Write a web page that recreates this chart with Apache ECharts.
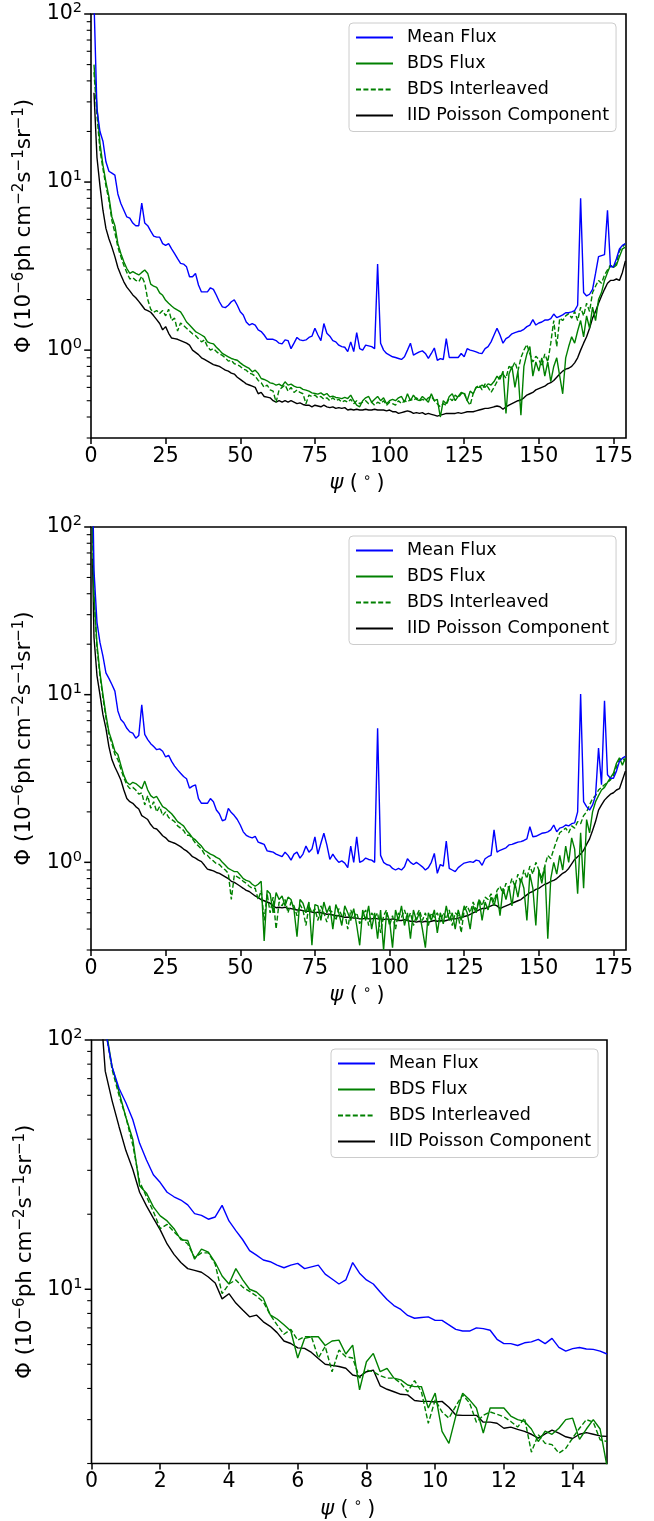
<!DOCTYPE html>
<html>
<head>
<meta charset="utf-8">
<script src="https://cdn.jsdelivr.net/npm/echarts@6/dist/echarts.min.js"></script>
<style>
html,body{margin:0;padding:0;background:#fff;}
#chart{width:654px;height:1521px;}
</style>
</head>
<body>
<div id="chart"></div>
<script>
// ---------- DATA ----------
const seriesNames = ['Mean Flux', 'BDS Flux', 'BDS Interleaved', 'IID Poisson Component'];

// Panel 1: psi = 1..179 deg
const x1 = [];
for (let d = 1; d <= 179; d++) x1.push(d);
const p1Mean = [120,27,20,17.5,13.2,11.6,11.3,11.0,8.5,7.45,
6.8,6.2,6.1,5.7,5.5,5.5,7.5,5.7,5.5,5.1,
4.77,4.7,4.7,4.3,4.2,4.3,4.0,3.75,3.5,3.28,
3.25,3.13,2.73,2.73,2.86,2.44,2.22,2.22,2.22,2.35,
2.3,2.12,1.94,1.81,1.79,1.85,1.94,1.99,1.85,1.69,
1.62,1.47,1.41,1.44,1.41,1.32,1.29,1.23,1.16,1.16,
1.16,1.14,1.1,1.09,1.15,1.14,1.02,1.1,1.19,1.15,
1.14,1.15,1.19,1.21,1.35,1.23,1.14,1.44,1.26,1.21,
1.14,1.12,1.07,1.05,1.04,0.98,1.12,0.98,1.27,1.02,
1.0,1.07,1.06,1.05,1.02,3.25,1.1,1.0,0.955,0.934,
0.913,0.904,0.892,0.88,0.913,1.0,1.1,0.934,0.955,0.977,
0.99,0.955,0.892,0.955,1.03,0.87,0.89,0.88,1.17,0.904,
0.904,0.904,0.904,0.955,0.913,1.02,1.0,0.99,0.977,0.96,
0.955,1.02,1.05,1.12,1.23,1.35,1.23,1.1,1.17,1.2,
1.25,1.27,1.29,1.3,1.33,1.38,1.41,1.52,1.41,1.45,
1.47,1.51,1.51,1.54,1.64,1.56,1.59,1.62,1.67,1.67,
1.69,1.72,1.85,8.0,2.2,2.1,2.15,2.3,2.86,3.6,
3.65,3.7,6.8,3.13,3.13,3.5,4.0,4.2,4.3];
const p1BDS = [50,28,17,12.6,10,8.2,6.2,5.5,4.3,3.76,
3.36,3.06,2.86,2.93,2.86,2.8,2.9,3.0,2.86,2.47,
2.4,2.36,2.19,2.12,1.98,1.9,1.83,1.77,1.73,1.69,
1.58,1.47,1.41,1.35,1.29,1.26,1.23,1.2,1.12,1.1,
1.09,1.04,1.0,0.955,0.934,0.913,0.892,0.88,0.87,0.84,
0.814,0.796,0.778,0.743,0.76,0.727,0.678,0.669,0.657,0.639,
0.633,0.619,0.627,0.61,0.648,0.619,0.627,0.61,0.6,0.6,
0.584,0.578,0.57,0.557,0.552,0.547,0.557,0.54,0.552,0.527,
0.532,0.523,0.52,0.515,0.523,0.515,0.54,0.5,0.47,0.46,
0.5,0.52,0.53,0.49,0.51,0.53,0.5,0.52,0.48,0.5,
0.51,0.5,0.52,0.53,0.49,0.55,0.5,0.54,0.51,0.5,
0.53,0.51,0.49,0.55,0.5,0.51,0.4,0.5,0.48,0.53,
0.55,0.5,0.53,0.56,0.55,0.5,0.57,0.55,0.6,0.6,
0.62,0.6,0.63,0.62,0.65,0.7,0.67,0.75,0.42,0.72,
0.8,0.6,0.75,0.41,0.8,0.95,1.05,0.7,0.85,0.75,
0.9,0.7,0.85,0.65,0.8,0.9,0.7,0.55,0.9,1.05,
1.2,1.1,1.3,1.5,1.2,1.6,1.35,1.8,1.5,2.0,
2.2,2.6,2.9,3.2,3.1,3.2,3.6,4.0,4.1];
const p1Inter = [45,25,15.5,12,9.5,7.8,5.9,5.0,4.1,3.6,
3.2,2.9,2.65,2.7,2.6,2.55,2.75,2.5,2.0,1.75,
1.68,1.72,1.65,1.72,1.6,1.75,1.5,1.55,1.3,1.45,
1.4,1.35,1.3,1.25,1.22,1.17,1.12,1.15,1.05,1.0,
1.02,0.98,0.95,0.93,0.9,0.86,0.87,0.83,0.82,0.8,
0.77,0.76,0.73,0.72,0.7,0.66,0.64,0.6,0.62,0.58,
0.57,0.49,0.58,0.6,0.62,0.57,0.6,0.56,0.58,0.56,
0.55,0.48,0.54,0.53,0.54,0.52,0.53,0.51,0.52,0.5,
0.52,0.5,0.51,0.49,0.5,0.49,0.51,0.48,0.5,0.48,
0.49,0.5,0.48,0.49,0.47,0.49,0.48,0.5,0.47,0.49,
0.48,0.47,0.5,0.48,0.5,0.49,0.51,0.5,0.52,0.5,
0.51,0.5,0.52,0.53,0.5,0.48,0.46,0.48,0.47,0.52,
0.5,0.54,0.52,0.55,0.56,0.5,0.47,0.55,0.6,0.62,
0.58,0.63,0.6,0.56,0.6,0.65,0.7,0.72,0.68,0.8,
0.78,0.85,0.75,0.9,1.0,1.08,0.95,0.85,0.92,0.88,
0.8,0.95,0.85,1.1,1.5,1.05,1.55,1.5,1.6,1.65,
1.55,1.7,1.5,1.8,1.6,1.9,1.7,2.2,2.4,2.6,
2.5,2.8,3.0,3.2,3.1,3.3,3.9,4.1,4.3];
const p1IID = [34,14,9.5,6.8,5.3,4.6,4.1,3.6,3.1,2.8,
2.55,2.37,2.25,2.13,2.05,1.95,1.85,1.75,1.72,1.68,
1.6,1.52,1.44,1.32,1.38,1.26,1.18,1.17,1.16,1.14,
1.12,1.1,1.07,1.0,0.97,0.94,0.9,0.88,0.86,0.84,
0.82,0.81,0.8,0.78,0.76,0.75,0.73,0.72,0.69,0.67,
0.65,0.63,0.62,0.61,0.6,0.55,0.56,0.53,0.525,0.52,
0.5,0.49,0.5,0.49,0.5,0.49,0.5,0.49,0.48,0.485,
0.475,0.47,0.47,0.46,0.47,0.465,0.46,0.47,0.46,0.455,
0.46,0.45,0.455,0.45,0.455,0.44,0.445,0.44,0.445,0.44,
0.44,0.445,0.44,0.44,0.445,0.44,0.44,0.44,0.435,0.44,
0.43,0.43,0.42,0.425,0.43,0.435,0.43,0.42,0.425,0.42,
0.425,0.415,0.42,0.415,0.41,0.405,0.41,0.415,0.42,0.42,
0.42,0.42,0.425,0.42,0.425,0.43,0.43,0.43,0.435,0.44,
0.445,0.45,0.45,0.455,0.46,0.465,0.46,0.445,0.46,0.47,
0.48,0.49,0.5,0.505,0.52,0.54,0.55,0.56,0.58,0.59,
0.6,0.61,0.63,0.64,0.66,0.69,0.72,0.75,0.77,0.78,
0.8,0.84,0.9,1.0,1.1,1.2,1.35,1.55,1.7,1.9,
2.1,2.3,2.5,2.6,2.6,2.65,2.6,2.9,3.4];

// Panel 2: psi = 0.5, then 1..179 deg
const x2 = [0.5];
for (let d = 1; d <= 179; d++) x2.push(d);
const p2Mean = [200,
55,27,20.5,17,13.5,12.5,11.5,10.5,8,7.1,
6.8,6.3,6.0,5.9,5.5,5.7,8.7,5.8,5.4,5.1,
4.9,4.7,4.75,4.6,4.25,4.35,4.0,3.75,3.56,3.4,
3.25,3.15,2.77,2.85,2.9,2.4,2.25,2.25,2.25,2.4,
2.3,2.05,1.95,1.77,1.8,2.1,1.98,1.9,1.8,1.67,
1.52,1.45,1.42,1.4,1.43,1.32,1.3,1.28,1.17,1.16,
1.15,1.12,1.1,1.08,1.15,1.1,1.03,1.12,1.15,1.06,
1.12,1.25,1.15,1.2,1.42,1.12,1.3,1.49,1.27,1.04,
1.12,1.05,1.0,1.02,0.99,0.93,1.25,1.0,1.42,1.0,
1.02,1.06,1.04,1.03,1.0,6.3,1.1,1.0,0.97,0.96,
0.92,0.9,0.92,0.9,0.94,1.05,1.0,0.97,1.0,0.97,
0.94,0.9,0.93,1.0,1.13,0.86,0.97,0.95,1.34,0.92,
0.9,0.88,0.93,0.96,0.99,1.0,1.01,1.0,1.03,1.02,
0.96,1.05,1.08,1.1,1.56,1.15,1.18,1.2,1.22,1.27,
1.28,1.3,1.32,1.33,1.35,1.38,1.63,1.42,1.43,1.46,
1.49,1.5,1.52,1.56,1.67,1.52,1.6,1.62,1.67,1.65,
1.7,1.72,2.0,10.1,2.3,2.15,2.05,2.2,2.5,4.8,
2.9,9.2,3.33,3.17,3.17,3.5,4.0,4.18,4.28];
const p2BDS = [100,
40,20,13.5,10,7.6,6.0,5.3,4.6,4.4,3.8,
3.3,3.0,2.9,3.0,2.95,2.85,2.75,3.05,2.7,2.5,
2.42,2.47,2.3,2.15,2.1,2.02,1.95,1.85,1.75,1.7,
1.65,1.55,1.48,1.4,1.36,1.3,1.25,1.18,1.15,1.12,
1.1,1.07,1.05,1.0,0.96,0.92,0.9,0.88,0.88,0.84,
0.8,0.78,0.77,0.74,0.72,0.74,0.77,0.34,0.68,0.65,
0.5,0.66,0.6,0.63,0.55,0.62,0.6,0.52,0.36,0.6,
0.57,0.5,0.58,0.32,0.56,0.55,0.45,0.58,0.5,0.55,
0.4,0.56,0.5,0.42,0.55,0.5,0.45,0.53,0.42,0.32,
0.52,0.45,0.55,0.4,0.5,0.35,0.52,0.3,0.5,0.45,
0.31,0.52,0.45,0.55,0.42,0.5,0.35,0.52,0.45,0.5,
0.4,0.31,0.5,0.45,0.52,0.38,0.5,0.43,0.55,0.45,
0.5,0.4,0.52,0.45,0.55,0.5,0.4,0.55,0.5,0.6,
0.45,0.58,0.52,0.62,0.55,0.65,0.48,0.7,0.6,0.72,
0.55,0.75,0.62,0.8,0.7,0.45,0.85,0.7,0.42,0.9,
0.75,0.95,0.35,0.8,1.0,0.85,1.1,0.9,1.25,1.0,
1.4,1.2,0.65,1.5,0.7,1.8,1.5,2.0,2.3,2.5,
2.7,2.8,3.0,3.2,3.4,3.9,4.2,3.8,4.2];
const p2Inter = [95,
38,19,13,9.6,7.3,5.8,5.1,4.4,4.1,3.6,
3.2,2.9,2.75,2.8,2.7,2.55,2.6,2.2,2.5,2.1,
2.3,2.0,2.15,1.9,2.0,1.85,1.8,1.75,1.65,1.6,
1.55,1.45,1.45,1.38,1.3,1.25,1.2,1.12,1.1,1.05,
1.02,0.98,0.97,0.93,0.9,0.86,0.6,0.84,0.82,0.8,
0.77,0.75,0.72,0.7,0.7,0.6,0.68,0.45,0.65,0.5,
0.62,0.4,0.58,0.55,0.6,0.5,0.58,0.55,0.48,0.56,
0.52,0.42,0.55,0.5,0.53,0.45,0.55,0.5,0.44,0.52,
0.5,0.45,0.53,0.48,0.5,0.4,0.52,0.47,0.5,0.43,
0.48,0.52,0.42,0.5,0.47,0.5,0.38,0.48,0.52,0.42,
0.48,0.4,0.5,0.47,0.52,0.45,0.5,0.42,0.48,0.52,
0.45,0.5,0.42,0.5,0.47,0.5,0.44,0.5,0.46,0.52,
0.42,0.5,0.48,0.38,0.52,0.55,0.5,0.58,0.52,0.6,
0.55,0.62,0.6,0.65,0.58,0.68,0.72,0.65,0.75,0.7,
0.8,0.72,0.85,0.75,0.9,0.8,0.95,0.85,1.0,0.9,
0.8,0.95,1.1,1.05,1.2,1.35,1.5,1.55,1.6,1.5,
1.65,1.6,1.75,1.7,1.9,2.0,2.2,2.4,2.5,2.7,
2.8,2.9,3.0,3.1,3.3,3.7,4.1,4.2,4.0];
const p2IID = [65,
22,13,10,7.6,6.3,4.9,4.1,3.7,3.4,3.1,
2.7,2.4,2.3,2.25,2.15,2.08,1.9,1.85,1.8,1.68,
1.6,1.58,1.51,1.44,1.4,1.34,1.32,1.3,1.27,1.24,
1.2,1.17,1.13,1.08,1.06,1.03,1.01,0.96,0.91,0.9,
0.89,0.87,0.86,0.84,0.82,0.8,0.77,0.76,0.74,0.72,
0.7,0.68,0.67,0.65,0.63,0.615,0.6,0.59,0.58,0.57,
0.55,0.536,0.54,0.535,0.54,0.53,0.53,0.525,0.52,0.52,
0.515,0.51,0.51,0.505,0.5,0.505,0.5,0.495,0.49,0.49,
0.485,0.48,0.48,0.475,0.47,0.47,0.47,0.465,0.465,0.46,
0.46,0.465,0.46,0.46,0.465,0.46,0.46,0.455,0.46,0.455,
0.46,0.455,0.45,0.45,0.455,0.45,0.445,0.445,0.44,0.445,
0.44,0.445,0.44,0.445,0.45,0.445,0.45,0.445,0.45,0.455,
0.46,0.46,0.465,0.47,0.475,0.48,0.49,0.5,0.51,0.52,
0.53,0.53,0.54,0.55,0.56,0.55,0.53,0.54,0.55,0.56,
0.57,0.58,0.59,0.6,0.62,0.64,0.66,0.67,0.69,0.7,
0.72,0.74,0.75,0.77,0.78,0.8,0.83,0.86,0.88,0.92,
0.98,1.04,1.08,1.12,1.18,1.28,1.38,1.55,1.75,2.05,
2.2,2.35,2.45,2.55,2.6,2.7,2.75,3.1,3.5];

// Panel 3: psi = 0.2 .. 15.0 deg, step 0.2
const x3 = [];
for (let k = 1; k <= 75; k++) x3.push(Math.round(k * 2) / 10);
const p3Mean = [200,110,78,64,56,48,38.5,33,28.8,26.8,
24.5,23.5,22.8,21.8,20.1,19.8,19.1,19.5,21.7,18.8,
17.2,15.8,14.3,13.7,13.1,12.9,12.5,12.2,12.5,12.7,
12.1,12.3,12.5,11.5,11.0,10.5,10.9,12.8,11.6,10.9,
10.5,9.75,9.1,8.6,8.3,7.85,7.65,7.7,7.75,7.5,
7.5,7.2,6.9,6.8,6.8,7.0,6.95,6.85,6.3,6.05,
6.05,5.95,6.1,6.15,6.3,6.05,6.35,5.85,5.65,5.78,
5.84,5.76,5.74,5.65,5.5];
const p3BDS = [250,115,78,62,49,40,26,24.3,21.4,19.7,
18.8,17.5,15.8,15.7,13.2,14.5,14.1,12.8,11.3,10.5,
12.1,10.9,10.0,9.75,9.2,7.9,7.6,7.2,6.8,5.3,
6.35,6.45,6.45,5.95,6.2,6.25,5.5,5.97,3.95,5.12,
5.53,4.67,4.82,4.4,4.33,4.13,4.07,4.07,3.34,3.83,
2.69,2.41,3.1,3.83,3.6,3.34,2.65,3.34,3.34,3.34,
3.1,3.0,2.95,2.75,2.45,2.7,2.62,2.77,3.0,3.04,
2.5,2.75,3.0,2.75,1.95];
const p3Inter = [240,112,76,60,49,38,27,23.5,20.5,17.5,
18.2,17.0,16.0,15.2,13.4,14.0,14.0,12.6,9.6,10.5,
10.9,10.2,9.8,9.4,8.9,7.9,7.2,6.6,6.9,6.25,
6.45,6.45,5.3,5.9,4.67,5.7,5.36,5.3,4.4,4.74,
4.67,4.5,4.4,4.4,4.2,3.88,4.3,3.88,2.9,3.6,
3.22,3.04,3.4,3.77,3.5,2.93,3.12,3.22,3.15,3.08,
2.95,2.8,3.04,2.22,2.61,2.41,2.38,2.2,2.3,2.53,
2.77,3.0,2.93,2.49,2.45];
const p3IID = [180,75,57,45,36,30.3,24.5,21.6,19.3,17.3,
15.2,13.8,12.8,12.1,11.9,11.7,11.2,10.6,9.15,9.6,
8.8,8.25,7.75,7.88,7.4,7.1,6.7,6.2,6.06,5.82,
5.79,5.58,5.28,5.0,4.95,4.9,4.82,4.53,4.46,4.67,
4.74,4.1,3.97,3.88,3.79,3.77,3.58,3.55,3.55,3.53,
3.55,3.36,3.13,3.12,3.12,3.12,2.93,2.93,2.9,2.77,
2.8,2.74,2.69,2.62,2.53,2.63,2.72,2.65,2.56,2.52,
2.62,2.66,2.62,2.58,2.57];

// Axis tick values
const xTicksWide = [0, 25, 50, 75, 100, 125, 150, 175];
const xTicksZoom = [0, 2, 4, 6, 8, 10, 12, 14];
const yMajorTicks = [1, 10, 100];
const yMinorTicks = [0.3,0.4,0.5,0.6,0.7,0.8,0.9,2,3,4,5,6,7,8,9,20,30,40,50,60,70,80,90];

// ---------- STYLE / LAYOUT ----------
const FONT = 'DejaVu Sans';
const colors = ['#0000ff', '#008000', '#008000', '#000000'];
const dashes = ['solid', 'solid', [5, 2.4], 'solid'];

const panels = [
  { x: x1, ys: [p1Mean, p1BDS, p1Inter, p1IID], grid: { left: 91, top: 14, width: 535, height: 424 },
    xmax: 179.2, xint: 25, xticks: xTicksWide, ymin: 0.3, legend: { left: 349, top: 23 } },
  { x: x2, ys: [p2Mean, p2BDS, p2Inter, p2IID], grid: { left: 91, top: 527, width: 535, height: 423 },
    xmax: 179.2, xint: 25, xticks: xTicksWide, ymin: 0.3, legend: { left: 349, top: 536 } },
  { x: x3, ys: [p3Mean, p3BDS, p3Inter, p3IID], grid: { left: 91.5, top: 1040, width: 515.5, height: 424 },
    xmax: 15, xint: 2, xticks: xTicksZoom, ymin: 2, legend: { left: 331, top: 1049 } }
];

function isPow10(v) {
  const l = Math.log10(v);
  return Math.abs(l - Math.round(l)) < 1e-6;
}

const option = {
  animation: false,
  backgroundColor: '#ffffff',
  grid: [], xAxis: [], yAxis: [], series: [], legend: []
};

panels.forEach((p, i) => {
  option.grid.push(Object.assign({ show: true, borderColor: '#000', borderWidth: 1.6, backgroundColor: 'transparent' }, p.grid));
  option.xAxis.push({
    type: 'value', gridIndex: i, min: 0, max: p.xmax, interval: p.xint,
    axisLine: { show: false }, splitLine: { show: false },
    axisTick: { show: true, length: 6, lineStyle: { color: '#000', width: 1.5 }, customValues: p.xticks },
    axisLabel: {
      customValues: p.xticks, margin: 8, color: '#000', fontFamily: FONT, fontSize: 20.5,
      formatter: v => (p.xticks.indexOf(Math.round(v * 1000) / 1000) >= 0 ? String(v) : '')
    },
    name: '{i|ψ}{a| (}{s|∘}{a|)}', nameLocation: 'middle', nameGap: 33,
    nameTextStyle: {
      color: '#000', fontFamily: FONT, fontSize: 20.5,
      rich: {
        i: { fontFamily: FONT, fontSize: 21, fontStyle: 'italic', lineHeight: 26, color: '#000' },
        a: { fontFamily: FONT, fontSize: 20.5, lineHeight: 26, color: '#000', padding: [0, 3, 0, 0] },
        s: { fontFamily: FONT, fontSize: 14, lineHeight: 13, verticalAlign: 'top', color: '#000', padding: [0, 5, 0, 2] }
      }
    }
  });
  option.yAxis.push({
    type: 'log', logBase: 10, gridIndex: i, min: p.ymin, max: 100,
    axisLine: { show: false }, splitLine: { show: false }, axisTick: { show: false }, minorTick: { show: false },
    axisLabel: {
      margin: 9, color: '#000', fontFamily: FONT, fontSize: 20.5,
      formatter: v => (isPow10(v) ? '{b|10}{s|' + Math.round(Math.log10(v)) + '}' : ''),
      rich: {
        b: { fontFamily: FONT, fontSize: 20.5, lineHeight: 26, color: '#000' },
        s: { fontFamily: FONT, fontSize: 14.5, lineHeight: 13, verticalAlign: 'top', color: '#000' }
      }
    },
    name: '{a|Φ (10}{s|−6}{a|ph cm}{s|−2}{a|s}{s|−1}{a|sr}{s|−1}{a|)}',
    nameLocation: 'middle', nameGap: 49,
    nameTextStyle: {
      color: '#000', fontFamily: FONT, fontSize: 21.5,
      rich: {
        a: { fontFamily: FONT, fontSize: 21.5, lineHeight: 26, color: '#000' },
        s: { fontFamily: FONT, fontSize: 15, lineHeight: 14, verticalAlign: 'top', color: '#000' }
      }
    }
  });

  // data series
  p.ys.forEach((ys, k) => {
    option.series.push({
      type: 'line', name: seriesNames[k], xAxisIndex: i, yAxisIndex: i,
      data: p.x.map((xv, j) => [xv, ys[j]]),
      symbol: 'none', showSymbol: false, clip: true, z: 3 + (3 - k),
      lineStyle: { color: colors[k], width: 1.4, type: dashes[k] },
      itemStyle: { color: colors[k] },
      emphasis: { disabled: true }
    });
  });

  // y ticks (major + minor) drawn through the y scale
  const tickData = [];
  yMajorTicks.forEach(v => { if (v >= p.ymin && v <= 100) tickData.push([0, v, 1]); });
  yMinorTicks.forEach(v => { if (v >= p.ymin && v <= 100) tickData.push([0, v, 0]); });
  option.series.push({
    type: 'custom', name: 'yticks' + i, xAxisIndex: i, yAxisIndex: i, silent: true, clip: false, z: 20,
    data: tickData,
    renderItem: (params, api) => {
      const pt = api.coord([api.value(0), api.value(1)]);
      const major = api.value(2) === 1;
      const len = major ? 6 : 3.5;
      return {
        type: 'line',
        shape: { x1: pt[0] - len - 0.8, y1: pt[1], x2: pt[0], y2: pt[1] },
        style: { stroke: '#000', lineWidth: major ? 1.5 : 1.1 }
      };
    }
  });

  option.legend.push({
    data: seriesNames.slice(), orient: 'vertical', left: p.legend.left, top: p.legend.top,
    itemWidth: 37, itemHeight: 14, itemGap: 6, selectedMode: false,
    itemStyle: { opacity: 0, borderWidth: 0 },
    backgroundColor: 'rgba(255,255,255,0.85)', borderColor: '#cccccc', borderWidth: 1, borderRadius: 4,
    padding: [4.5, 7, 6, 6],
    textStyle: { color: '#000', fontFamily: FONT, fontSize: 17.5, lineHeight: 20, padding: [0, 0, 0, 9] }
  });
});

const chart = echarts.init(document.getElementById('chart'), null, { renderer: 'canvas' });
chart.setOption(option);
</script>
</body>
</html>
